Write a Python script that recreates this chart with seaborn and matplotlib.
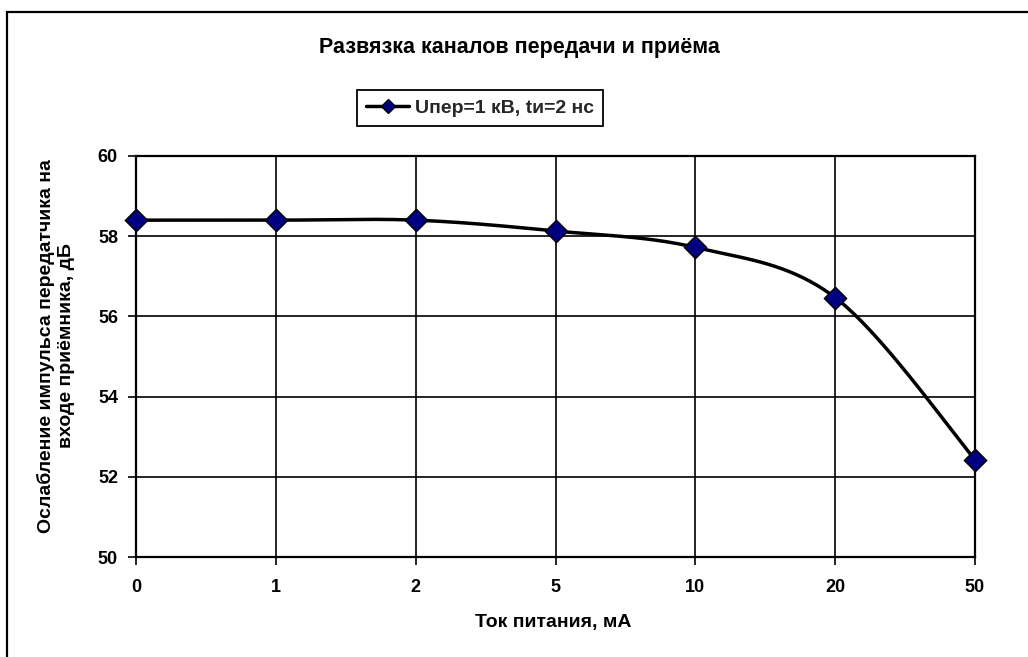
import numpy as np
import pandas as pd
import matplotlib
matplotlib.use("Agg")
import matplotlib.pyplot as plt
from matplotlib.lines import Line2D
from matplotlib.patches import Rectangle
import seaborn as sns

# ---- data ----
categories = ["0", "1", "2", "5", "10", "20", "50"]
values = [58.4, 58.4, 58.4, 58.13, 57.72, 56.47, 52.43]
series_name = "Uпер=1 кВ, tи=2 нс"
title = "Развязка каналов передачи и приёма"
xlabel = "Ток питания, мА"
ylabel = "Ослабление импульса передатчика на\nвходе приёмника, дБ"
yticks = [50, 52, 54, 56, 58, 60]

sns.set_theme(style="white")
plt.rcParams['font.family'] = ['Liberation Sans', 'DejaVu Sans']
plt.rcParams['font.weight'] = 'bold'

W, H = 1028, 657
fig = plt.figure(figsize=(W / 100, H / 100), dpi=100)
fig.patch.set_facecolor("white")

# plot area
l, r, t, b = 136, 975, 156, 557
ax = fig.add_axes([l / W, 1 - b / H, (r - l) / W, (b - t) / H])
ax.set_facecolor("white")

idx = np.arange(len(categories), dtype=float)
vals = np.array(values, dtype=float)

# Excel-style smoothed line (Bezier through the points)
def smooth(xp, yp, n=40):
    P = np.column_stack([xp, yp])
    m = len(P)
    out = []
    for i in range(m - 1):
        p0 = P[i - 1] if i > 0 else P[i]
        p1 = P[i]
        p2 = P[i + 1]
        p3 = P[i + 2] if i + 2 < m else P[i + 1]
        c1 = p1 + (p2 - p0) / 6.0
        c2 = p2 - (p3 - p1) / 6.0
        tt = np.linspace(0, 1, n)[:, None]
        seg = ((1 - tt) ** 3) * p1 + 3 * ((1 - tt) ** 2) * tt * c1 + 3 * (1 - tt) * tt ** 2 * c2 + tt ** 3 * p2
        out.append(seg if i == 0 else seg[1:])
    s = np.vstack(out)
    return s[:, 0], s[:, 1]

sx, sy = smooth(idx, vals)
curve = pd.DataFrame({"x": sx, "y": sy})
pts = pd.DataFrame({"x": idx, "y": vals})

sns.lineplot(data=curve, x="x", y="y", sort=False, estimator=None, ax=ax,
             color="black", linewidth=2.5, zorder=3, clip_on=False)
sns.scatterplot(data=pts, x="x", y="y", ax=ax, marker="D", s=130,
                color="#000080", edgecolor="black", linewidth=1.0,
                zorder=4, clip_on=False, legend=False)

ax.set_xlim(0, len(categories) - 1)
ax.set_ylim(50, 60)
ax.set_xticks(idx)
ax.set_xticklabels(categories)
ax.set_yticks(yticks)
ax.set_yticklabels([str(v) for v in yticks])
ax.grid(True, color="black", linewidth=1.2)
ax.set_axisbelow(True)
for s in ax.spines.values():
    s.set_color("black")
    s.set_linewidth(1.6)
ax.tick_params(axis="both", which="major", direction="out", length=6, width=1.2,
               color="black", labelsize=13, labelcolor="black")
ax.tick_params(axis="x", pad=10, bottom=True)
ax.tick_params(axis="y", pad=7, left=True)
for lab in ax.get_xticklabels() + ax.get_yticklabels():
    lab.set_fontweight("bold")
ax.set_xlabel("")
ax.set_ylabel("")

# title and axis titles
fig.text(519 / W, 1 - 47 / H, title, ha="center", va="center",
         fontsize=15.5, fontweight="bold", color="black")
fig.text(553 / W, 1 - 623 / H, xlabel, ha="center", va="center",
         fontsize=14, fontweight="bold", color="black")
fig.text(56 / W, 1 - 346 / H, ylabel, ha="center", va="center", rotation=90,
         fontsize=14, fontweight="bold", color="black", multialignment="center",
         linespacing=1.25)

# legend
handle = Line2D([0], [0], color="black", linewidth=2.5, marker="D", markersize=7,
                markerfacecolor="#000080", markeredgecolor="black", markeredgewidth=1.0)
leg = fig.legend([handle], [series_name], loc="center",
                 bbox_to_anchor=(480 / W, 1 - 108 / H), frameon=True, fancybox=False,
                 edgecolor="black", framealpha=1, borderpad=0.45, handlelength=2.2,
                 handletextpad=0.3, borderaxespad=0,
                 prop={"size": 14, "weight": "bold"})
leg.get_frame().set_linewidth(1.3)

# outer chart border (extends past the right and bottom edges)
fig.patches.append(Rectangle((7 / W, -0.5), 2.0, 1.5 - 12 / H,
                             transform=fig.transFigure, fill=False,
                             edgecolor="black", linewidth=1.6))

fig.savefig("out.png", dpi=100, facecolor="white")
